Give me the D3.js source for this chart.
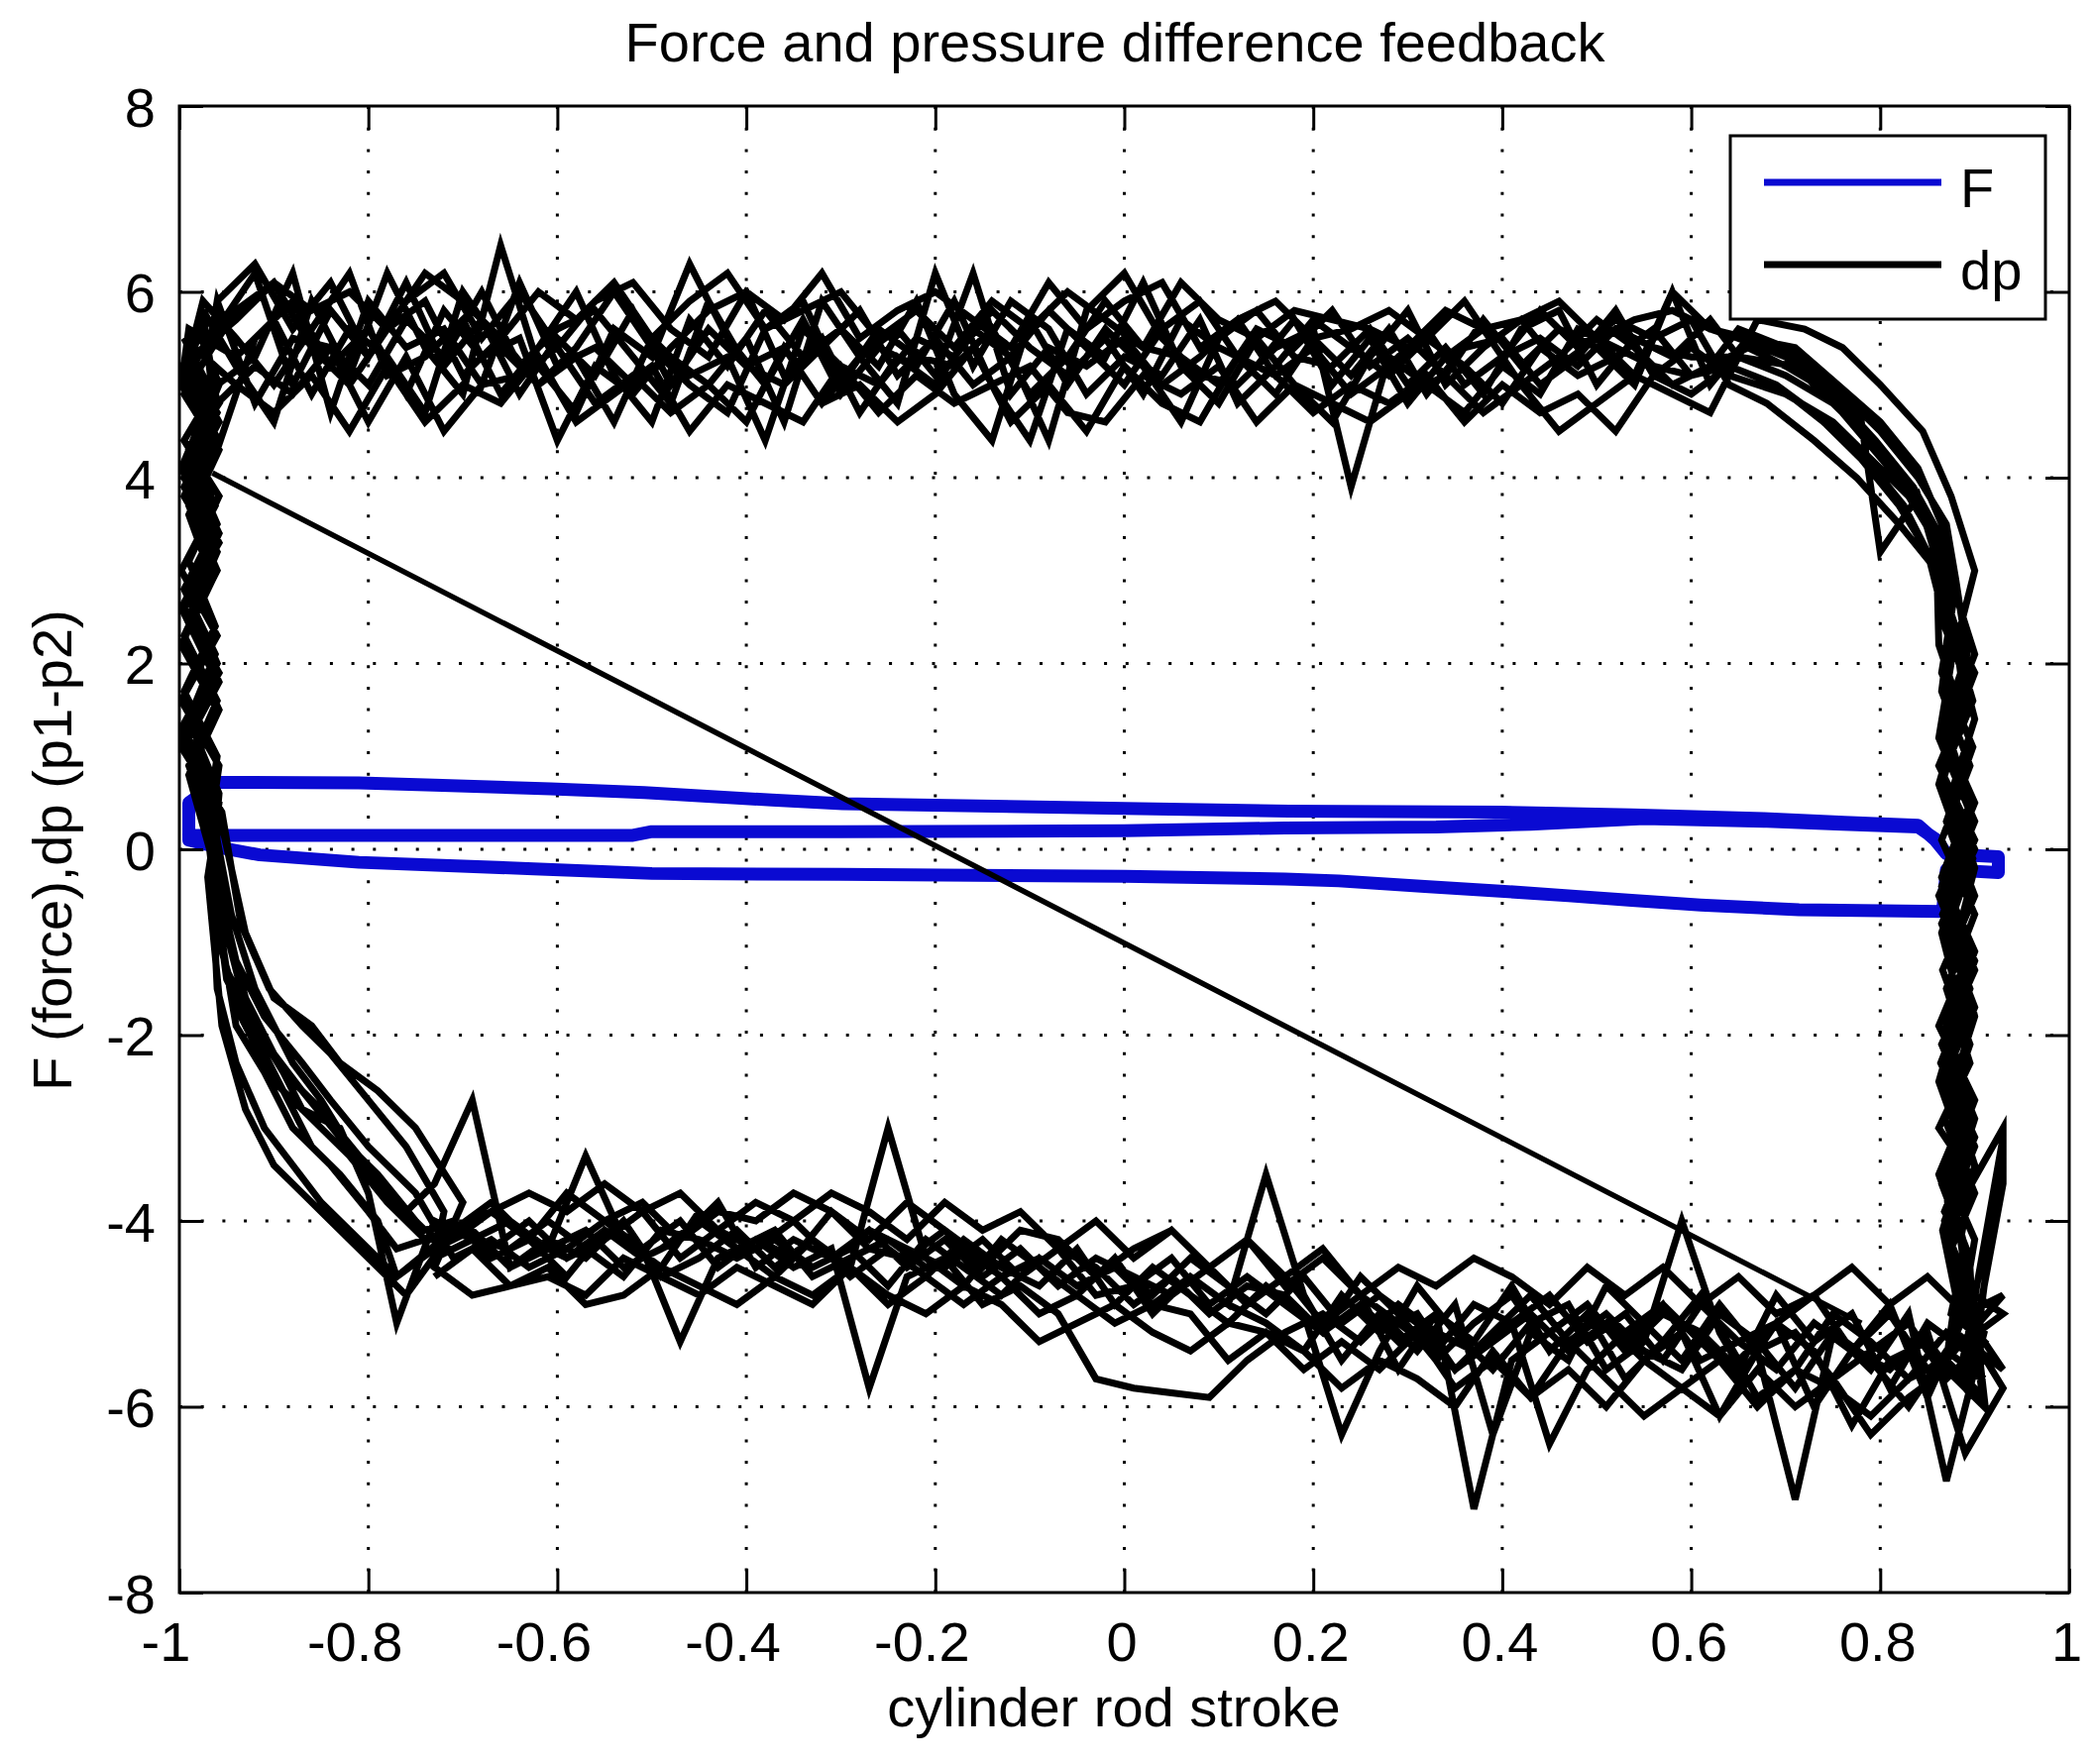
<!DOCTYPE html>
<html>
<head>
<meta charset="utf-8">
<script src="https://cdn.jsdelivr.net/npm/d3@7"></script>
<style>
  html, body { margin: 0; padding: 0; background: #fff; }
  text { font-family: "Liberation Sans", Arial, sans-serif; fill: #000; }
</style>
</head>
<body>
<div id="chart"></div>
<script>
// axis ticks
const xTickVals = [-1, -0.8, -0.6, -0.4, -0.2, 0, 0.2, 0.4, 0.6, 0.8, 1];
const yTickVals = [-8, -6, -4, -2, 0, 2, 4, 6, 8];

// dp: sample positions along the upper (extending) and lower (retracting) strokes
const topXA = [-0.96,-0.92,-0.88,-0.84,-0.80,-0.76,-0.72,-0.68,-0.64,-0.60,-0.56,-0.52,-0.48,-0.44,-0.40,-0.36,-0.32,-0.28,-0.24,-0.20,
  -0.16,-0.12,-0.08,-0.04,0.00,0.04,0.08,0.12,0.16,0.20,0.24,0.28,0.32,0.36,0.40,0.44,0.48,0.52,0.56,0.60];
const topXB = [-0.94,-0.90,-0.86,-0.82,-0.78,-0.74,-0.70,-0.66,-0.62,-0.58,-0.54,-0.50,-0.46,-0.42,-0.38,-0.34,-0.30,-0.26,-0.22,-0.18,
  -0.14,-0.10,-0.06,-0.02,0.02,0.06,0.10,0.14,0.18,0.22,0.26,0.30,0.34,0.38,0.42,0.46,0.50,0.54,0.58,0.62];
const bottomXA = [0.93,0.89,0.85,0.81,0.77,0.73,0.69,0.65,0.61,0.57,0.53,0.49,0.45,0.41,0.37,0.33,0.29,0.25,0.21,0.17,
  0.13,0.09,0.05,0.01,-0.03,-0.07,-0.11,-0.15,-0.19,-0.23,-0.27,-0.31,-0.35,-0.39,-0.43,-0.47,-0.51,-0.55,-0.59,-0.63,-0.67,-0.71];
const bottomXB = [0.91,0.87,0.83,0.79,0.75,0.71,0.67,0.63,0.59,0.55,0.51,0.47,0.43,0.39,0.35,0.31,0.27,0.23,0.19,0.15,
  0.11,0.07,0.03,-0.01,-0.05,-0.09,-0.13,-0.17,-0.21,-0.25,-0.29,-0.33,-0.37,-0.41,-0.45,-0.49,-0.53,-0.57,-0.61,-0.65,-0.69,-0.73];

// dp on the upper stroke, one row per cycle (even rows on topXA, odd rows on topXB)
const dpTop = [
  [5.6,6.2,5.0,5.8,5.3,6.1,5.2,5.7,4.9,5.5, 5.1,5.8,5.0,5.6,5.2,5.4,4.8,5.3,5.6,5.1, 6.2,4.9,5.4,5.2,5.5,5.0,5.3,5.7,5.1,5.4, 4.9,5.2,5.6,5.0,5.3,5.5,5.2,5.6,5.4,5.3],
  [5.2,4.6,5.9,5.1,6.2,5.4,4.9,6.5,5.2,4.7, 5.6,5.3,6.3,5.5,5.0,5.7,4.9,5.4,5.2,5.9, 5.0,4.4,5.6,5.3,6.1,5.2,4.8,5.5,5.0,4.6, 5.3,5.8,5.0,5.4,5.7,5.2,5.5,5.1,6.0,5.6],
  [4.3,5.5,5.9,5.2,5.6,4.9,5.8,5.3,5.5,4.4, 5.2,4.9,5.4,5.8,6.0,5.1,5.5,4.7,5.3,5.0, 5.6,5.3,4.4,5.8,6.2,5.5,5.1,5.0,5.4,5.6, 3.9,5.3,5.0,4.7,5.2,4.9,5.6,5.4,5.2,5.1],
  [5.8,6.1,5.4,5.0,5.6,5.9,5.1,5.5,5.0,5.3, 4.6,5.5,5.1,5.3,4.4,5.6,5.2,5.0,5.5,5.3, 5.8,5.4,5.1,5.5,4.9,5.7,5.4,5.2,5.7,5.0, 5.5,4.8,5.3,5.6,5.0,5.3,5.7,5.4,5.0,5.2],
  [5.0,5.3,6.2,4.7,5.9,5.4,5.6,5.0,6.1,5.2, 5.4,5.0,5.3,5.0,5.5,4.6,5.9,5.3,4.8,6.2, 5.2,5.9,5.6,4.9,5.3,5.1,5.7,4.8,5.2,5.7, 5.4,5.1,5.5,5.2,4.8,5.4,5.1,5.3,5.6,5.1],
  [5.5,5.0,5.6,6.2,5.1,5.3,5.7,4.9,5.4,6.0, 5.1,4.6,5.7,5.2,5.8,5.3,5.6,5.2,5.9,4.9, 4.4,5.7,5.0,5.6,5.2,4.6,5.5,5.8,5.3,5.2, 5.6,5.0,5.4,4.9,5.6,5.8,5.0,5.5,5.3,5.7],
  [5.9,4.8,5.5,5.4,5.0,5.7,5.3,6.0,5.2,5.6, 5.8,5.3,4.8,5.9,5.2,5.0,5.4,5.8,5.1,5.5, 5.0,5.3,5.8,5.4,5.0,5.6,5.9,5.3,4.9,5.5, 5.1,5.6,4.9,5.4,5.5,5.0,5.3,5.8,5.1,5.4],
  [5.3,5.7,4.9,5.6,5.3,4.7,6.0,5.4,5.0,5.4, 6.0,5.4,5.0,4.7,5.6,5.9,5.0,5.6,5.3,5.2, 5.6,4.9,5.3,5.9,5.4,5.3,5.0,5.6,5.4,5.8, 5.2,5.5,5.1,5.7,5.2,5.6,5.4,5.0,6.0,5.0],
  [5.9,6.3,5.6,6.1,5.3,5.9,6.2,5.5,6.0,5.4, 5.9,6.1,5.6,5.3,6.0,5.7,6.2,5.5,5.8,6.0, 5.7,5.4,6.1,5.6,5.9,6.1,5.4,5.7,5.9,5.5, 5.6,5.8,5.5,5.9,5.3,5.8,5.4,5.7,5.5,5.7],
  [5.0,4.7,5.1,4.5,5.2,4.6,5.0,4.8,5.3,4.6, 4.9,5.2,4.5,5.0,4.8,4.6,5.2,4.7,5.1,4.8, 5.0,5.2,4.7,4.6,5.1,4.9,5.2,4.6,5.0,4.8, 4.6,4.9,5.1,4.7,5.0,4.5,4.8,5.1,4.9,4.7],
  [4.8,5.2,4.9,5.4,4.6,5.3,4.5,5.0,5.1,5.4, 4.8,5.1,4.7,5.0,4.6,5.4,4.8,5.0,4.6,4.9, 5.4,4.6,5.0,4.5,5.2,4.8,4.6,5.3,5.1,4.7, 5.0,4.8,5.1,4.6,5.0,4.7,4.9,4.5,5.1,4.9],
  [5.7,6.1,5.8,6.0,5.6,6.2,5.9,5.5,6.0,5.7, 6.1,5.5,5.9,6.2,5.6,5.8,6.0,5.5,5.8,5.4, 5.9,5.6,6.0,5.7,5.4,6.1,5.7,5.5,5.8,5.7, 5.6,5.4,5.8,5.6,5.7,5.9,5.5,5.7,5.8,5.6]
];

// dp on the lower stroke, one row per cycle (even rows on bottomXA, odd rows on bottomXB)
const dpBottom = [
  [-5.6,-5.0,-5.9,-4.9,-5.4,-6.0,-5.1,-5.5,-4.8,-5.3, -5.7,-5.0,-5.4,-4.7,-5.3,-5.0,-5.6,-4.8,-5.1,-4.6, -4.9,-4.5,-4.8,-4.6,-4.4,-4.7,-4.3,-4.6,-4.2,-4.5, -4.1,-4.4,-4.0,-4.3,-4.1,-4.4,-3.9,-4.2,-4.4,-4.0, -4.3,-4.1],
  [-5.2,-6.8,-5.0,-5.6,-5.2,-7.0,-5.4,-4.9,-5.5,-5.1, -4.7,-5.5,-5.2,-6.3,-4.9,-5.4,-5.0,-5.5,-4.8,-3.5, -4.9,-4.6,-5.0,-4.4,-4.8,-4.5,-4.2,-4.7,-4.4,-3.0, -4.5,-4.2,-4.6,-4.3,-3.9,-4.5,-4.2,-3.3,-4.3,-4.5, -2.7,-3.6],
  [-3.1,-5.4,-5.1,-5.8,-5.0,-5.3,-4.8,-5.6,-5.2,-5.0, -5.4,-4.9,-5.2,-5.5,-7.1,-5.0,-5.3,-4.9,-5.2,-4.8, -4.7,-5.0,-4.6,-4.9,-4.5,-4.3,-4.6,-4.4,-4.1,-4.4, -4.3,-3.9,-4.4,-4.2,-4.5,-4.0,-4.3,-4.1,-4.4,-4.2, -3.9,-4.2],
  [-5.5,-5.2,-5.7,-5.3,-5.0,-5.6,-5.9,-5.2,-4.0,-5.3, -5.6,-4.9,-5.1,-5.6,-5.2,-4.7,-5.4,-6.3,-5.0,-4.7, -5.1,-4.8,-4.5,-4.9,-4.3,-4.7,-4.5,-4.2,-4.6,-4.3, -4.6,-4.2,-4.5,-4.1,-4.4,-4.6,-4.0,-4.4,-4.2,-4.5, -4.1,-4.3],
  [-3.6,-5.8,-5.3,-5.5,-6.2,-5.4,-5.1,-5.7,-5.3,-4.9, -5.2,-5.6,-6.4,-5.1,-5.4,-5.2,-4.9,-5.3,-5.0,-5.2, -5.5,-5.9,-5.85,-5.8,-5.7,-5.0,-4.7,-4.9,-4.4,-4.6, -5.8,-4.3,-4.5,-4.2,-4.4,-5.3,-4.3,-4.0,-4.3,-4.5, -4.2,-4.4],
  [-5.7,-5.4,-6.0,-5.5,-5.2,-5.8,-5.3,-5.0,-5.6,-5.4, -5.0,-5.3,-4.8,-5.2,-5.6,-5.1,-4.8,-5.1,-4.6,-5.0, -4.7,-4.4,-4.8,-4.5,-4.7,-4.4,-4.6,-4.3,-4.5,-4.2, -4.4,-4.6,-4.1,-4.3,-4.0,-4.3,-4.5,-4.1,-4.3,-4.0, -4.2,-4.0],
  [-5.8,-6.5,-5.2,-5.6,-5.4,-5.1,-5.6,-5.3,-5.5,-4.9, -5.3,-5.0,-5.4,-4.8,-5.1,-5.5,-5.0,-4.6,-5.2,-4.9, -4.6,-4.9,-4.4,-4.7,-4.8,-4.3,-4.6,-4.2,-4.5,-4.3, -4.1,-4.4,-4.2,-4.5,-3.8,-4.2,-4.4,-4.1,-4.6,-4.2, -4.4,-4.0],
  [-5.3,-5.7,-5.1,-5.4,-5.7,-5.2,-5.4,-6.1,-5.2,-5.5, -5.1,-5.4,-5.0,-5.3,-5.6,-5.0,-5.2,-4.8,-5.4,-5.1, -4.9,-4.6,-4.9,-4.5,-4.7,-4.4,-4.8,-4.5,-4.2,-4.7, -4.3,-4.5,-4.2,-4.4,-4.2,-4.1,-4.6,-4.3,-4.0,-4.3, -4.2,-4.4],
  [-4.8,-5.0,-4.6,-4.9,-4.5,-4.8,-5.0,-4.6,-4.9,-4.5, -4.8,-4.5,-4.9,-4.6,-4.4,-4.7,-4.5,-4.8,-4.3,-4.6, -4.2,-4.5,-4.1,-4.4,-4.0,-4.3,-3.9,-4.1,-3.8,-4.2, -3.9,-3.7,-4.0,-3.8,-4.1,-3.7,-3.9,-3.6,-3.9,-3.7, -3.9,-4.1],
  [-6.0,-5.6,-5.9,-6.3,-5.7,-6.0,-5.6,-6.1,-5.8,-5.5, -6.0,-5.6,-5.9,-5.4,-6.0,-5.7,-5.5,-5.8,-5.4,-5.2, -5.1,-5.4,-5.2,-4.9,-5.1,-5.3,-4.9,-4.7,-5.0,-4.8, -4.5,-4.8,-4.6,-4.9,-4.7,-4.5,-4.8,-4.9,-4.5,-4.7, -4.8,-4.5],
  [-5.0,-5.3,-5.6,-5.0,-5.4,-4.8,-5.1,-5.3,-4.9,-5.5, -5.0,-5.3,-4.8,-5.1,-4.9,-5.4,-5.1,-4.8,-4.4,-4.7, -4.2,-4.5,-4.1,-4.3,-4.6,-4.2,-4.1,-4.5,-4.1,-3.8, -4.2,-3.9,-3.7,-4.0,-3.9,-4.2,-3.8,-4.0,-3.7,-4.2, -3.8,-4.1],
  [-5.9,-5.5,-5.7,-6.1,-5.8,-5.6,-6.0,-5.5,-5.8,-6.1, -5.7,-5.3,-5.9,-5.5,-5.8,-5.2,-5.6,-5.3,-5.6,-5.2, -5.5,-5.0,-4.9,-5.1,-4.8,-5.0,-4.6,-4.9,-4.6,-4.9, -4.5,-4.9,-4.7,-4.5,-4.8,-4.6,-4.4,-4.8,-4.6,-4.7, -4.3,-4.6]
];

// dp at the left reversal (end of lower stroke, then the wobbling rise at the left end)
const leftTurnX = [
  [-0.75,-0.79,-0.83,-0.87,-0.90,-0.93,-0.95, -0.965,-0.99,-0.96,-0.995,-0.962,-0.99,-0.958,-0.995,-0.97],
  [-0.77,-0.80,-0.84,-0.88,-0.91,-0.94,-0.955, -0.97,-0.958,-0.995,-0.96,-0.99,-0.962,-0.998,-0.965,-0.975],
  [-0.76,-0.81,-0.85,-0.89,-0.92,-0.95,-0.962, -0.97,-0.995,-0.958,-0.99,-0.96,-0.995,-0.965,-0.99,-0.99],
  [-0.74,-0.78,-0.82,-0.86,-0.90,-0.935,-0.955, -0.968,-0.99,-0.96,-0.998,-0.965,-0.99,-0.958,-0.995,-0.965],
  [-0.77,-0.79,-0.83,-0.86,-0.89,-0.92,-0.95, -0.965,-0.958,-0.99,-0.962,-0.995,-0.96,-0.99,-0.958,-0.98],
  [-0.75,-0.80,-0.84,-0.87,-0.91,-0.94,-0.958, -0.962,-0.995,-0.96,-0.99,-0.958,-0.998,-0.962,-0.99,-0.975],
  [-0.77,-0.80,-0.83,-0.87,-0.905,-0.93,-0.95, -0.97,-0.96,-0.995,-0.962,-0.99,-0.958,-0.995,-0.96,-0.97],
  [-0.74,-0.79,-0.82,-0.85,-0.88,-0.92,-0.945, -0.96,-0.99,-0.958,-0.995,-0.96,-0.99,-0.962,-0.998,-0.99],
  [-0.72,-0.76,-0.80,-0.84,-0.87,-0.905,-0.935, -0.955,-0.998,-0.96,-0.998,-0.958,-0.995,-0.96,-0.99,-0.96],
  [-0.76,-0.80,-0.84,-0.87,-0.90,-0.93,-0.955, -0.97,-0.958,-0.998,-0.96,-0.995,-0.958,-0.99,-0.96,-0.995],
  [-0.70,-0.75,-0.79,-0.83,-0.86,-0.90,-0.93, -0.958,-0.998,-0.958,-0.998,-0.96,-0.995,-0.958,-0.99,-0.975],
  [-0.77,-0.81,-0.85,-0.88,-0.91,-0.94,-0.96, -0.968,-0.958,-0.998,-0.96,-0.998,-0.962,-0.99,-0.958,-0.998]
];
const leftTurnY = [
  [-4.0,-3.5,-3.1,-2.6,-2.2,-1.6,-0.8, 0.2,0.9,1.6,2.3,3.0,3.7,4.4,5.0,5.5],
  [-4.3,-3.9,-3.4,-3.0,-2.4,-1.9,-1.0, -0.3,0.5,1.2,1.9,2.7,3.4,4.1,4.9,5.8],
  [-3.9,-3.3,-2.8,-2.4,-1.9,-1.3,-0.5, 0.5,1.1,1.8,2.5,3.2,3.8,4.5,5.0,5.2],
  [-4.2,-3.8,-3.3,-2.9,-2.5,-1.8,-1.1, 0.0,0.8,1.5,2.2,2.9,3.6,4.3,4.9,5.4],
  [-4.6,-4.0,-3.5,-3.2,-2.6,-2.0,-1.4, -0.2,0.6,1.4,2.1,2.8,3.5,4.2,5.0,5.6],
  [-3.7,-3.2,-2.7,-2.3,-1.8,-1.2,-0.4, 0.6,1.3,2.0,2.7,3.4,4.1,4.7,5.3,5.9],
  [-5.1,-3.7,-3.0,-2.8,-2.1,-1.7,-0.9, 0.3,1.0,1.7,2.4,3.1,3.8,4.4,5.0,5.3],
  [-4.1,-3.6,-3.2,-2.7,-2.3,-1.5,-0.7, 0.1,0.8,1.5,2.3,3.0,3.7,4.4,5.0,5.6],
  [-3.9,-3.2,-2.7,-2.2,-1.9,-1.5,-0.8, 0.4,1.1,1.8,2.6,3.3,4.0,4.7,5.2,5.6],
  [-4.8,-4.4,-4.0,-3.7,-3.4,-2.8,-1.9, -0.3,0.5,1.3,2.0,2.6,3.4,4.1,4.8,5.5],
  [-3.8,-3.0,-2.6,-2.3,-1.9,-1.6,-0.9, 0.4,1.2,1.9,2.6,3.3,3.9,4.6,5.2,5.7],
  [-4.6,-4.2,-3.8,-3.4,-3.0,-2.3,-1.5, 0.2,0.9,1.6,2.3,3.0,3.7,4.3,4.8,5.2]
];

// dp at the right reversal (end of upper stroke, then the wobbling drop at the right end)
const rightTurnX = [
  [0.65,0.70,0.75,0.79,0.83,0.855, 0.87,0.875,0.862,0.895,0.865,0.90,0.87,0.895,0.865,0.895,0.88],
  [0.66,0.71,0.76,0.80,0.84,0.87, 0.88,0.892,0.865,0.90,0.868,0.895,0.862,0.90,0.87,0.90,0.89],
  [0.64,0.69,0.73,0.78,0.82,0.85, 0.865,0.90,0.87,0.898,0.862,0.895,0.868,0.90,0.875,0.895,0.90],
  [0.65,0.70,0.74,0.78,0.80,0.84, 0.86,0.875,0.898,0.866,0.90,0.865,0.895,0.87,0.90,0.868,0.89],
  [0.66,0.70,0.75,0.80,0.835,0.86, 0.875,0.865,0.895,0.865,0.90,0.87,0.895,0.862,0.895,0.88,0.93],
  [0.65,0.71,0.76,0.81,0.845,0.865, 0.88,0.89,0.865,0.898,0.87,0.90,0.866,0.895,0.87,0.90,0.885],
  [0.64,0.70,0.75,0.79,0.83,0.86, 0.87,0.895,0.866,0.90,0.868,0.90,0.865,0.898,0.87,0.875,0.90],
  [0.66,0.71,0.755,0.80,0.84,0.865, 0.875,0.90,0.87,0.895,0.865,0.90,0.87,0.895,0.862,0.89,0.875],
  [0.64,0.68,0.73,0.775,0.82,0.86, 0.862,0.885,0.862,0.89,0.865,0.885,0.862,0.89,0.866,0.88,0.87],
  [0.67,0.72,0.76,0.80,0.845,0.875, 0.90,0.88,0.90,0.875,0.90,0.88,0.90,0.875,0.90,0.885,0.90],
  [0.64,0.69,0.74,0.785,0.825,0.855, 0.868,0.895,0.862,0.90,0.866,0.895,0.864,0.90,0.868,0.895,0.885],
  [0.65,0.70,0.75,0.795,0.835,0.862, 0.878,0.865,0.898,0.87,0.90,0.866,0.895,0.868,0.90,0.875,0.90]
];
const rightTurnY = [
  [5.3,5.1,4.8,4.4,3.9,3.4, 2.8,2.0,1.2,0.4,-0.4,-1.2,-2.0,-2.8,-3.6,-4.4,-5.2],
  [5.5,5.3,4.9,4.5,4.0,3.5, 2.9,2.1,1.3,0.5,-0.3,-1.1,-1.9,-2.7,-3.5,-4.2,-4.8],
  [5.2,5.0,4.7,4.2,3.7,3.2, 2.6,1.9,1.1,0.3,-0.5,-1.3,-2.1,-2.9,-3.7,-4.5,-5.5],
  [5.6,5.4,5.0,4.6,3.2,3.8, 3.1,2.4,1.6,0.8,0.0,-0.8,-1.6,-2.4,-3.2,-4.0,-4.9],
  [5.4,5.2,4.9,4.3,3.8,3.3, 2.5,1.7,0.9,0.1,-0.7,-1.5,-2.3,-3.0,-3.5,-3.9,-3.0],
  [5.3,5.2,4.7,4.1,3.6,3.0, 2.3,1.5,0.7,-0.1,-0.9,-1.7,-2.5,-3.3,-4.1,-4.9,-5.6],
  [5.1,4.9,4.6,4.2,3.8,3.3, 2.7,1.9,1.1,0.3,-0.5,-1.3,-2.1,-2.9,-3.6,-4.4,-5.3],
  [5.5,5.4,5.0,4.6,4.1,3.5, 2.9,2.1,1.3,0.5,-0.3,-1.1,-1.9,-2.7,-3.5,-4.3,-5.0],
  [5.0,4.8,4.4,4.0,3.5,3.0, 2.2,1.5,0.7,-0.1,-0.9,-1.7,-2.5,-3.3,-4.1,-4.8,-5.5],
  [5.7,5.6,5.4,5.0,4.5,3.8, 3.0,2.2,1.4,0.6,-0.2,-1.0,-1.8,-2.6,-3.4,-4.2,-5.3],
  [5.2,5.0,4.6,4.2,3.7,3.1, 2.4,1.7,0.9,0.1,-0.7,-1.5,-2.3,-3.1,-3.9,-4.4,-4.7],
  [5.5,5.3,4.9,4.4,3.9,3.4, 2.7,1.9,1.1,0.3,-0.5,-1.3,-2.1,-2.9,-3.7,-4.3,-5.0]
];

// straight dp segment across the loop
const dpJumpX = [-0.965, 0.78];
const dpJumpY = [4.05, -5.1];

// F (force) trace
const forceX = [-0.99,-0.96,-0.52,-0.50,-0.30,0.00,0.17,0.33,0.43,0.55,0.68,0.76,0.84,0.86,0.87,0.925,0.925,0.87,
  0.866,0.714,0.61,0.537,0.47,0.398,0.318,0.227,0.17,0.00,-0.30,-0.50,-0.625,-0.81,-0.915,-0.958,-0.99,-0.99,-0.96,
  -0.81,-0.73,-0.607,-0.508,-0.373,-0.298,0.00,0.174,0.398,0.537,0.677,0.762,0.84,0.858,0.87];
const forceY = [0.15,0.15,0.15,0.19,0.19,0.20,0.23,0.24,0.27,0.33,0.30,0.27,0.24,0.10,-0.05,-0.08,-0.25,-0.22,
  -0.67,-0.65,-0.60,-0.55,-0.50,-0.45,-0.40,-0.34,-0.32,-0.29,-0.27,-0.26,-0.21,-0.14,-0.06,0.02,0.10,0.50,0.72,
  0.715,0.69,0.65,0.61,0.53,0.49,0.44,0.41,0.40,0.37,0.33,0.29,0.26,0.10,-0.05];

const W = 2112, H = 1780;
const plot = { left: 181, right: 2088, top: 107, bottom: 1607 };
const FONT = 56;

const svg = d3.select('#chart').append('svg')
  .attr('width', W).attr('height', H)
  .style('display', 'block');
svg.append('rect').attr('width', W).attr('height', H).attr('fill', '#fff');

const x = d3.scaleLinear().domain([-1, 1]).range([plot.left, plot.right]);
const y = d3.scaleLinear().domain([-8, 8]).range([plot.bottom, plot.top]);

svg.append('defs').append('clipPath').attr('id', 'plot-clip')
  .append('rect')
  .attr('x', plot.left).attr('y', plot.top)
  .attr('width', plot.right - plot.left).attr('height', plot.bottom - plot.top);

// dotted grid
const grid = svg.append('g').attr('stroke', '#000').attr('stroke-width', 3)
  .attr('stroke-dasharray', '3 18.7').attr('stroke-linecap', 'butt');
grid.selectAll('line.gx')
  .data(xTickVals.slice(1, -1))
  .join('line').attr('class', 'gx')
  .attr('x1', d => x(d)).attr('x2', d => x(d))
  .attr('y1', plot.top).attr('y2', plot.bottom);
grid.selectAll('line.gy')
  .data(yTickVals.slice(1, -1))
  .join('line').attr('class', 'gy')
  .attr('y1', d => y(d)).attr('y2', d => y(d))
  .attr('x1', plot.left).attr('x2', plot.right);

const line = d3.line().x(d => x(d[0])).y(d => y(d[1]));
const data = svg.append('g').attr('clip-path', 'url(#plot-clip)');

// F first, dp drawn over it
data.append('path')
  .datum(d3.zip(forceX, forceY))
  .attr('fill', 'none').attr('stroke', '#0a0ad2')
  .attr('stroke-width', 13).attr('stroke-linejoin', 'round')
  .attr('d', line);

const dpPoints = [];
dpTop.forEach((row, k) => {
  d3.zip(leftTurnX[k], leftTurnY[k]).forEach(p => dpPoints.push(p));
  d3.zip(k % 2 ? topXB : topXA, row).forEach(p => dpPoints.push(p));
  d3.zip(rightTurnX[k], rightTurnY[k]).forEach(p => dpPoints.push(p));
  d3.zip(k % 2 ? bottomXB : bottomXA, dpBottom[k]).forEach(p => dpPoints.push(p));
});

data.append('path')
  .datum(dpPoints)
  .attr('fill', 'none').attr('stroke', '#000')
  .attr('stroke-width', 7).attr('stroke-linejoin', 'miter')
  .attr('d', line);

data.append('path')
  .datum(d3.zip(dpJumpX, dpJumpY))
  .attr('fill', 'none').attr('stroke', '#000')
  .attr('stroke-width', 5.5)
  .attr('d', line);

// axes with inward ticks on all four sides
const fmt = d => String(+d.toFixed(1));
function styleAxis(g) {
  g.select('.domain').remove();
  g.selectAll('.tick line').attr('stroke', '#000').attr('stroke-width', 3);
  g.selectAll('text').attr('font-size', FONT).attr('fill', '#000')
    .style('font-family', '"Liberation Sans", Arial, sans-serif');
}
svg.append('g').attr('transform', `translate(0,${plot.bottom})`)
  .call(d3.axisBottom(x).tickValues(xTickVals).tickSize(-24).tickSizeOuter(0).tickFormat(fmt))
  .call(styleAxis)
  .call(g => g.selectAll('text')
    .attr('y', 69).attr('dy', null)
    .attr('x', d => (d < 0 ? -14 : -3)));
svg.append('g').attr('transform', `translate(0,${plot.top})`)
  .call(d3.axisTop(x).tickValues(xTickVals).tickSize(-24).tickSizeOuter(0).tickFormat(''))
  .call(styleAxis);
svg.append('g').attr('transform', `translate(${plot.left},0)`)
  .call(d3.axisLeft(y).tickValues(yTickVals).tickSize(-24).tickSizeOuter(0).tickFormat(fmt))
  .call(styleAxis)
  .call(g => g.selectAll('text').attr('x', -24).attr('dy', '0.36em'));
svg.append('g').attr('transform', `translate(${plot.right},0)`)
  .call(d3.axisRight(y).tickValues(yTickVals).tickSize(-24).tickSizeOuter(0).tickFormat(''))
  .call(styleAxis);

svg.append('rect')
  .attr('x', plot.left).attr('y', plot.top)
  .attr('width', plot.right - plot.left).attr('height', plot.bottom - plot.top)
  .attr('fill', 'none').attr('stroke', '#000').attr('stroke-width', 3);

// titles
svg.append('text')
  .attr('x', 1125).attr('y', 62)
  .attr('text-anchor', 'middle').attr('font-size', FONT)
  .text('Force and pressure difference feedback');
svg.append('text')
  .attr('x', 1124).attr('y', 1742)
  .attr('text-anchor', 'middle').attr('font-size', FONT)
  .text('cylinder rod stroke');
svg.append('text')
  .attr('transform', 'translate(72,858) rotate(-90)')
  .attr('text-anchor', 'middle').attr('font-size', FONT)
  .text('F (force),dp (p1-p2)');

// legend
const legendItems = [
  { label: 'F', color: '#0a0ad2', y: 184 },
  { label: 'dp', color: '#000', y: 267 }
];
const legend = svg.append('g');
legend.append('rect')
  .attr('x', 1746).attr('y', 137).attr('width', 318).attr('height', 185)
  .attr('fill', '#fff').attr('stroke', '#000').attr('stroke-width', 3);
legend.selectAll('line.key')
  .data(legendItems)
  .join('line').attr('class', 'key')
  .attr('x1', 1780).attr('x2', 1959)
  .attr('y1', d => d.y).attr('y2', d => d.y)
  .attr('stroke', d => d.color).attr('stroke-width', 7);
legend.selectAll('text.key')
  .data(legendItems)
  .join('text').attr('class', 'key')
  .attr('x', 1978).attr('y', d => d.y + 25)
  .attr('font-size', FONT)
  .text(d => d.label);
</script>
</body>
</html>
